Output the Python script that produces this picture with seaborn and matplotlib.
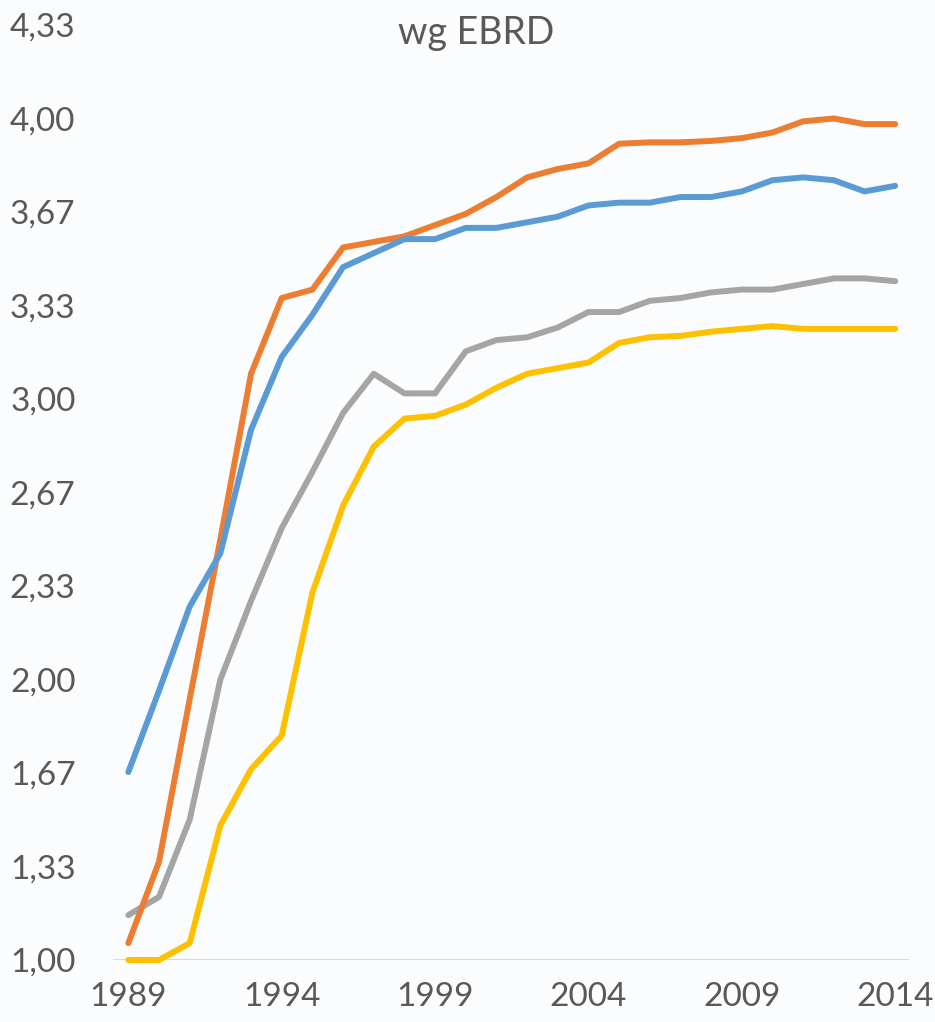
import matplotlib
matplotlib.use('Agg')
import matplotlib.pyplot as plt
import seaborn as sns
import pandas as pd

years = list(range(1989, 2015))

# four series (no legend in the original)
orange = [1.06, 1.35, 1.93, 2.50, 3.09, 3.36, 3.39, 3.54, 3.56, 3.58, 3.62, 3.66,
          3.72, 3.79, 3.82, 3.84, 3.91, 3.915, 3.915, 3.92, 3.93, 3.95, 3.99, 4.00, 3.98, 3.98]
blue = [1.67, 1.96, 2.26, 2.45, 2.89, 3.15, 3.30, 3.47, 3.52, 3.57, 3.57, 3.61,
        3.61, 3.63, 3.65, 3.69, 3.70, 3.70, 3.72, 3.72, 3.74, 3.78, 3.79, 3.78, 3.74, 3.76]
grey = [1.16, 1.225, 1.50, 2.00, 2.28, 2.54, 2.74, 2.95, 3.09, 3.02, 3.02, 3.17,
        3.21, 3.22, 3.255, 3.31, 3.31, 3.35, 3.36, 3.38, 3.39, 3.39, 3.41, 3.43, 3.43, 3.42]
yellow = [1.00, 1.00, 1.06, 1.48, 1.68, 1.80, 2.31, 2.62, 2.83, 2.93, 2.94, 2.98,
          3.04, 3.09, 3.11, 3.13, 3.20, 3.22, 3.225, 3.24, 3.25, 3.26, 3.25, 3.25, 3.25, 3.25]

yticks = [1.00, 4/3, 5/3, 2.00, 7/3, 8/3, 3.00, 10/3, 11/3, 4.00, 13/3]
ytick_labels = ['1,00', '1,33', '1,67', '2,00', '2,33', '2,67', '3,00', '3,33', '3,67', '4,00', '4,33']
xticks = [1989, 1994, 1999, 2004, 2009, 2014]

df = pd.DataFrame({'year': years, 'blue': blue, 'orange': orange, 'grey': grey, 'yellow': yellow})
df = df.melt(id_vars='year', var_name='series', value_name='value')

palette = {'blue': '#5B9BD5', 'orange': '#ED7D31', 'grey': '#A5A5A5', 'yellow': '#FFC000'}

sns.set_style('white')
plt.rcParams['font.family'] = ['Lato', 'DejaVu Sans']
text_col = '#595959'

fig = plt.figure(figsize=(9.35, 10.22), dpi=100)
fig.patch.set_facecolor('#fbfcfd')
ax = fig.add_axes([113/935, 1-960/1022, (909-113)/935, (960-25)/1022])
ax.set_facecolor('none')

sns.lineplot(data=df, x='year', y='value', hue='series', palette=palette,
             hue_order=['yellow', 'grey', 'orange', 'blue'],
             linewidth=4.3, legend=False, ax=ax)
for l in ax.get_lines():
    l.set_solid_capstyle('round')
    l.set_clip_on(False)

ax.axhline(1.0, color='#D9D9D9', linewidth=1.5, zorder=0)

ax.set_xlim(1988.5, 2014.45)
ax.set_ylim(1.0, 13/3)
ax.set_yticks(yticks)
ax.set_yticklabels(ytick_labels)
ax.set_xticks(xticks)
ax.set_xticklabels([str(x) for x in xticks])
ax.tick_params(axis='y', length=0, pad=27, labelsize=24, labelcolor=text_col)
ax.tick_params(axis='x', length=0, pad=16, labelsize=24, labelcolor=text_col)
ax.set_xlabel('')
ax.set_ylabel('')
sns.despine(ax=ax, left=True, bottom=True)

fig.text(476/935, 1-33/1022, 'wg EBRD', ha='center', va='center', fontsize=27, color=text_col)

fig.savefig('out.png', dpi=100, facecolor=fig.get_facecolor())
